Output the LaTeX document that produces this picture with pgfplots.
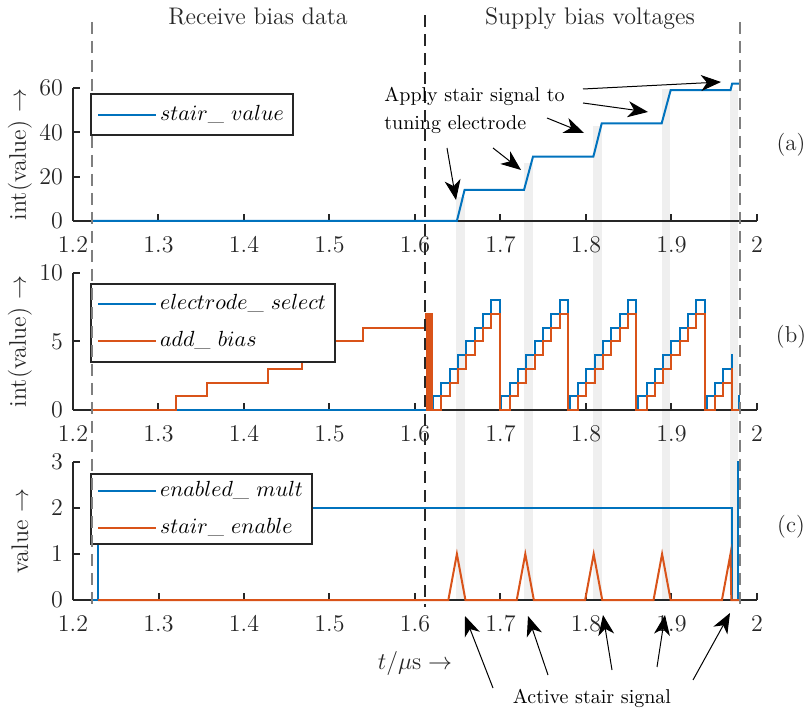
\documentclass[border=0pt]{standalone}
\usepackage{pgfplots}
\pgfplotsset{compat=1.18}
\usetikzlibrary{arrows.meta}
\definecolor{mblue}{HTML}{0072BD}
\definecolor{morange}{HTML}{D95319}
\definecolor{axgray}{HTML}{262626}
\definecolor{band}{HTML}{EFEFEF}
\definecolor{dgray}{HTML}{7F7F7F}
\pgfplotsset{
  myaxis/.style={
    scale only axis, width=342pt, anchor=south west,
    xmin=1.2, xmax=2, clip=false,
    axis x line*=bottom, axis y line*=left,
    tick align=inside, major tick length=3.5pt,
    axis line style={line width=1pt, draw=axgray},
    every tick/.style={line width=1pt, draw=axgray},
    xtick={1.2,1.3,1.4,1.5,1.6,1.7,1.8,1.9,2},
    xticklabel style={yshift=-4.5pt},
    yticklabel style={xshift=-1.5pt},
    tick label style={font=\fontsize{12}{14}\selectfont, text=axgray},
    label style={font=\fontsize{12}{14}\selectfont, text=axgray},
    ylabel style={at={(axis description cs:-0.0775,0.5)}, anchor=center},
    /pgf/number format/fixed,
    legend cell align=left,
    legend image code/.code={\draw[##1, line width=1pt] (0pt,0pt) -- (29pt,0pt);},
    legend style={draw=axgray, line width=1pt, fill=white, anchor=north west,
      font=\fontsize{11}{13}\selectfont, inner xsep=3pt, inner ysep=3.5pt, row sep=5pt,
      nodes={inner sep=1.5pt, text height=8pt, text depth=2.5pt},
      every legend text/.style={inner xsep=4pt}},
  },
}
\begin{document}
\begin{tikzpicture}
\useasboundingbox (0,0) rectangle (404pt,356pt);
% --- active stair signal bands (top-axis units, reaching down to bottom axis)
\begin{axis}[myaxis, at={(36.5pt,245.5pt)}, height=66.5pt, ymin=0, ymax=60, hide axis]
\addplot[fill=band, draw=none] coordinates {(1.648,-171) (1.648,11) (1.658,11) (1.658,-171)} -- cycle;
\addplot[fill=band, draw=none] coordinates {(1.7275,-171) (1.7275,26) (1.738,26) (1.738,-171)} -- cycle;
\addplot[fill=band, draw=none] coordinates {(1.808,-171) (1.808,43) (1.8185,43) (1.8185,-171)} -- cycle;
\addplot[fill=band, draw=none] coordinates {(1.8885,-171) (1.8885,59.4) (1.898,59.4) (1.898,-171)} -- cycle;
\addplot[fill=band, draw=none] coordinates {(1.968,-171) (1.968,59) (1.978,59) (1.978,-171)} -- cycle;
\end{axis}
% --- (c) bottom axis
\begin{axis}[myaxis, at={(36.5pt,56pt)}, height=69pt, ymin=0, ymax=3, ytick={0,1,2,3},
  ylabel={value $\rightarrow$},
  xlabel={$t/\mu\mathrm{s}\rightarrow$},
  xlabel style={at={(axis description cs:0.5,-0.507)}, anchor=base},
  legend style={at={(axis description cs:0.025,0.92)}, inner ysep=1.5pt}]
\addplot[mblue, line width=1pt, const plot] coordinates {
(1.222,0) (1.229,2) (1.9705,0) (1.978,3) (1.9785,3)};
\addlegendentry{$enabled\_\ mult$}
\addplot[morange, line width=1pt] coordinates {
(1.229,0) (1.639,0) (1.649,1) (1.659,0) (1.719,0) (1.729,1) (1.739,0)
(1.799,0) (1.809,1) (1.819,0) (1.879,0) (1.889,1) (1.899,0)
(1.959,0) (1.969,1) (1.970,0) (1.98,0)};
\addlegendentry{$stair\_\ enable$}
\end{axis}
% --- (b) middle axis
\begin{axis}[myaxis, at={(36.5pt,151pt)}, height=68.5pt, ymin=0, ymax=10, ytick={0,5,10},
  ylabel={int(value) $\rightarrow$},
  legend style={at={(axis description cs:0.025,0.927)}}]
\addplot[mblue, line width=1pt, const plot] coordinates {
(1.222,0)
(1.621,1) (1.6308,2) (1.6405,3) (1.6502,4) (1.66,5) (1.6698,6) (1.6795,7) (1.6892,8) (1.699,0)
(1.701,1) (1.7108,2) (1.7205,3) (1.7302,4) (1.74,5) (1.7498,6) (1.7595,7) (1.7692,8) (1.779,0)
(1.781,1) (1.7908,2) (1.8005,3) (1.8102,4) (1.82,5) (1.8298,6) (1.8395,7) (1.8492,8) (1.859,0)
(1.861,1) (1.8708,2) (1.8805,3) (1.8902,4) (1.90,5) (1.9098,6) (1.9195,7) (1.9292,8) (1.939,0)
(1.941,1) (1.9508,2) (1.9605,3) (1.9702,4) (1.971,0) (1.9785,1) (1.98,1)};
\addlegendentry{$electrode\_\ select$}
\addplot[morange, line width=1pt, const plot] coordinates {
(1.2235,0) (1.32,1) (1.357,2) (1.428,3) (1.468,4) (1.50,5) (1.539,6)
(1.6125,7) (1.614,0) (1.6155,7) (1.617,0) (1.6185,7) (1.620,0)
(1.6308,1) (1.6405,2) (1.6502,3) (1.66,4) (1.6698,5) (1.6795,6) (1.6892,7) (1.699,0)
(1.7108,1) (1.7205,2) (1.7302,3) (1.74,4) (1.7498,5) (1.7595,6) (1.7692,7) (1.779,0)
(1.7908,1) (1.8005,2) (1.8102,3) (1.82,4) (1.8298,5) (1.8395,6) (1.8492,7) (1.859,0)
(1.8708,1) (1.8805,2) (1.8902,3) (1.90,4) (1.9098,5) (1.9195,6) (1.9292,7) (1.939,0)
(1.9508,1) (1.9605,2) (1.9702,3) (1.971,0) (1.98,0)};
\addlegendentry{$add\_\ bias$}
\end{axis}
% --- (a) top axis
\begin{axis}[myaxis, at={(36.5pt,245.5pt)}, height=66.5pt, ymin=0, ymax=60, ytick={0,20,40,60},
  ylabel={int(value) $\rightarrow$},
  legend style={at={(axis description cs:0.025,0.962)}}]
\addplot[mblue, line width=1pt] coordinates {
(1.222,0) (1.649,0) (1.658,14) (1.7275,14) (1.738,29) (1.8086,29) (1.8184,44)
(1.8885,44) (1.899,59) (1.969,59) (1.971,62) (1.98,62)};
\addlegendentry{$stair\_\ value$}
\addplot[dgray, line width=0.8pt, dash pattern=on 6pt off 3.5pt, forget plot] coordinates {(1.222,89.8) (1.222,-175.5)};
\addplot[axgray, line width=0.8pt, dash pattern=on 6pt off 3.5pt, forget plot] coordinates {(1.612,92.9) (1.612,-174.1)};
\addplot[dgray, line width=0.8pt, dash pattern=on 6pt off 3.5pt, forget plot] coordinates {(1.98,89.8) (1.98,-174.1)};
\end{axis}
% --- annotations (pixel coordinates of the reference)
\begin{scope}[x=0.5pt, y=-0.5pt, yshift=356pt]
\node[anchor=base, font=\fontsize{12}{14}\selectfont, text=axgray] at (258,25) {Receive bias data};
\node[anchor=base, font=\fontsize{12}{14}\selectfont, text=axgray] at (590,25) {Supply bias voltages};
\node[anchor=base west, font=\fontsize{10}{12}\selectfont, inner sep=0pt] at (384,101.5) {Apply stair signal to};
\node[anchor=base west, font=\fontsize{10}{12}\selectfont, inner sep=0pt] at (384,130) {tuning electrode};
\node[anchor=base, font=\fontsize{10}{12}\selectfont, inner sep=0pt] at (592,703) {Active stair signal};
\node[font=\fontsize{11.5}{13}\selectfont, text=axgray] at (791,145) {(a)};
\node[font=\fontsize{11.5}{13}\selectfont, text=axgray] at (791,337) {(b)};
\node[font=\fontsize{11.5}{13}\selectfont, text=axgray] at (791,527) {(c)};
\tikzset{ann/.style={line width=0.5pt, -{Stealth[length=10pt, width=8pt, inset=3pt]}}}
\draw[ann] (447,148) -- (456,200);
\draw[ann] (493,148) -- (521,170);
\draw[ann] (547,118) -- (584,133);
\draw[ann] (583,103) -- (648,112);
\draw[ann] (583,89) -- (721,82);
\draw[ann] (493,688) -- (465,616);
\draw[ann] (548,675) -- (528,616);
\draw[ann] (612,670) -- (603,615);
\draw[ann] (657,667) -- (665,615);
\draw[ann] (693,680) -- (730,613);
\end{scope}
\end{tikzpicture}
\end{document}
